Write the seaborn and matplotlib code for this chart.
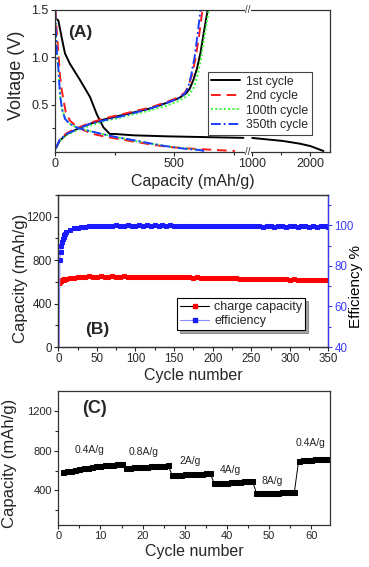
"""Three-panel anode performance figure: voltage profiles, cycling, rate capability."""
import matplotlib

matplotlib.use("Agg")
import matplotlib.pyplot as plt
from matplotlib.lines import Line2D
from matplotlib.ticker import FixedLocator, MultipleLocator
import numpy as np
import seaborn as sns

sns.set_theme(style="ticks")
plt.rcParams["font.family"] = ["Liberation Sans", "DejaVu Sans"]

# ---------------- (A) charge/discharge voltage profiles ----------------
dis1_cap = [3, 14, 28, 42, 63, 105, 147, 175, 203, 230, 251, 328, 468, 608, 790]
dis1_v = [1.41, 1.39, 1.21, 1.04, 0.93, 0.76, 0.58, 0.40, 0.26, 0.19, 0.19, 0.176, 0.165, 0.158, 0.149]
dis1b_cap = [1000, 1531, 1817, 2000, 2229]
dis1b_v = [0.148, 0.116, 0.088, 0.063, 0.01]
ch1_cap = [4, 20, 50, 100, 150, 200, 300, 400, 470, 520, 550, 565, 580, 595, 610, 625, 640]
ch1_v = [0.04, 0.12, 0.19, 0.25, 0.30, 0.34, 0.40, 0.46, 0.52, 0.57, 0.62, 0.67, 0.76, 0.88, 1.05, 1.28, 1.5]

dis2_cap = [2, 8, 14, 21, 28, 35, 45, 63, 90, 120, 160, 203, 260, 328, 400, 468, 540, 608, 680, 754]
dis2_v = [1.5, 1.25, 1.05, 0.80, 0.66, 0.56, 0.42, 0.33, 0.27, 0.23, 0.19, 0.165, 0.14, 0.11, 0.08,
          0.055, 0.04, 0.03, 0.02, 0.01]
ch2_cap = [4, 20, 50, 100, 150, 200, 300, 400, 470, 520, 545, 560, 575, 590, 605, 618]
ch2_v = [0.04, 0.13, 0.20, 0.26, 0.31, 0.35, 0.41, 0.47, 0.53, 0.58, 0.63, 0.70, 0.82, 1.0, 1.25, 1.5]

dis100_cap = [1, 4, 9, 14, 21, 30, 42, 60, 90, 130, 180, 250, 328, 400, 468, 540, 608, 620]
dis100_v = [1.45, 1.25, 1.0, 0.88, 0.62, 0.45, 0.36, 0.30, 0.26, 0.23, 0.20, 0.16, 0.12, 0.09,
            0.06, 0.04, 0.02, 0.01]
ch100_cap = [4, 20, 50, 100, 150, 200, 300, 400, 470, 520, 560, 580, 595, 610, 625, 645]
ch100_v = [0.04, 0.12, 0.18, 0.24, 0.28, 0.32, 0.38, 0.44, 0.49, 0.54, 0.60, 0.67, 0.78, 0.96, 1.2, 1.5]

dis350_cap = [1, 4, 9, 14, 21, 30, 42, 60, 90, 130, 180, 250, 328, 400, 468, 540, 608, 625]
dis350_v = [1.5, 1.25, 1.0, 0.90, 0.60, 0.45, 0.35, 0.30, 0.26, 0.23, 0.20, 0.16, 0.125, 0.09,
            0.06, 0.035, 0.02, 0.01]
ch350_cap = [4, 20, 50, 100, 150, 200, 300, 400, 470, 520, 545, 558, 570, 585, 598, 610]
ch350_v = [0.04, 0.13, 0.19, 0.25, 0.30, 0.33, 0.39, 0.46, 0.52, 0.57, 0.62, 0.68, 0.80, 1.0, 1.25, 1.5]

# ---------------- (B) long-term cycling ----------------
cyc_b = [1, 2, 3, 4, 5, 6, 7, 8, 9, 10] + list(range(15, 351, 5))
cap_b = [592, 600, 605, 610, 615, 618, 620, 622, 625, 626,
         632, 638, 645, 648, 645, 650, 648, 647, 650, 648, 646, 650, 648, 647, 650, 648, 647, 649,
         648, 647, 649, 648, 646, 648, 645, 646, 644, 645, 642, 644, 641, 642, 640, 641, 638, 640,
         637, 638, 635, 636, 633, 634, 632, 633, 630, 631, 629, 630, 628, 629, 627, 626, 625, 626,
         624, 623, 622, 620, 622, 620, 619, 621, 618, 620, 618, 617, 619, 617]
eff_b = [29, 83, 87, 90, 92, 93.5, 94.5, 95.5, 96, 96.8,
         97.8, 98.5, 98.8, 99.2, 99.4, 99.5, 99.6, 99.7, 99.8, 99.7, 99.9, 99.8, 100, 99.8, 99.9,
         100, 99.8, 99.9, 100, 99.9, 100, 99.8, 100, 99.9, 100.1, 99.9, 100, 99.8, 99.9, 99.8,
         99.9, 99.7, 99.8, 99.9, 99.7, 99.8, 99.6, 99.8, 99.7, 99.6, 99.8, 99.6, 99.7, 99.5, 99.7,
         99.6, 99.5, 99.7, 99.5, 99.6, 99.4, 99.6, 99.5, 99.4, 99.6, 99.5, 99.4, 99.6, 99.5, 99.4,
         99.5, 99.6, 99.4, 99.5, 99.4, 99.5, 99.5, 99.4]

# ---------------- (C) rate capability ----------------
cyc_c = list(range(1, 66))
cap_c = [583, 592, 600, 608, 615, 622, 630, 637, 643, 648, 652, 656, 660, 663, 666,
         628, 630, 633, 635, 637, 640, 642, 644, 646, 648, 652,
         555, 557, 559, 561, 563, 565, 567, 569, 571, 574,
         470, 473, 476, 479, 482, 485, 488, 491, 494, 497,
         373, 374, 375, 376, 377, 378, 379, 380, 382, 384,
         700, 704, 707, 710, 713, 716, 718, 720, 722]
rate_labels = ["0.4A/g", "0.8A/g", "2A/g", "4A/g", "8A/g", "0.4A/g"]
rate_x = [7.5, 20.3, 31.3, 40.8, 50.8, 59.8]
rate_y = [810, 790, 700, 610, 490, 880]

BLUE_AX = "#3b3bff"


def fwd(x):
    x = np.asarray(x, dtype=float)
    return np.where(x <= 800, x,
                    np.where(x <= 1000, 800 + (x - 800) * 0.133, 826.6 + (x - 1000) * 0.243))


def inv(u):
    u = np.asarray(u, dtype=float)
    return np.where(u <= 800, u,
                    np.where(u <= 826.6, 800 + (u - 800) / 0.133, 1000 + (u - 826.6) / 0.243))


def style_axis(ax, size):
    for s in ax.spines.values():
        s.set_visible(True)
        s.set_color("#333333")
        s.set_linewidth(0.9)
    ax.tick_params(which="both", direction="out", labelsize=size, length=3, width=0.8, pad=1.5)
    ax.tick_params(which="minor", length=2)


fig = plt.figure(figsize=(3.69, 5.67), dpi=100)
axA = fig.add_axes([0.149, 0.732, 0.745, 0.2504])
axB = fig.add_axes([0.158, 0.388, 0.732, 0.268])
axC = fig.add_axes([0.158, 0.074, 0.737, 0.236])

# ---- panel A ----
lw = 1.4
sns.lineplot(x=dis1_cap, y=dis1_v, ax=axA, color="black", lw=lw, sort=False, estimator=None)
sns.lineplot(x=dis1b_cap, y=dis1b_v, ax=axA, color="black", lw=lw, sort=False, estimator=None)
sns.lineplot(x=ch1_cap, y=ch1_v, ax=axA, color="black", lw=lw, sort=False, estimator=None)
for xs, ys, col, ls in [(dis2_cap, dis2_v, "#ff1a1a", (0, (5, 3))), (ch2_cap, ch2_v, "#ff1a1a", (0, (5, 3))),
                        (dis100_cap, dis100_v, "#33ff33", (0, (1, 1.2))),
                        (ch100_cap, ch100_v, "#33ff33", (0, (1, 1.2))),
                        (dis350_cap, dis350_v, "#1a3dff", (0, (5, 1.5, 1, 1.5))),
                        (ch350_cap, ch350_v, "#1a3dff", (0, (5, 1.5, 1, 1.5)))]:
    sns.lineplot(x=xs, y=ys, ax=axA, color=col, lw=lw, linestyle=ls, sort=False, estimator=None)

axA.set_xscale("function", functions=(fwd, inv))
axA.set_xlim(0, 2340)
axA.set_ylim(0, 1.5)
axA.xaxis.set_major_locator(FixedLocator([0, 500, 1000, 2000]))
axA.xaxis.set_minor_locator(FixedLocator([250, 750, 1500]))
axA.yaxis.set_major_locator(FixedLocator([0.5, 1.0, 1.5]))
axA.yaxis.set_minor_locator(FixedLocator([0.25, 0.75, 1.25]))
axA.set_xticklabels(["0", "500", "1000", "2000"])
axA.set_yticklabels(["0.5", "1.0", "1.5"])
style_axis(axA, 9)
axA.set_xlabel("Capacity (mAh/g)", fontsize=11.5, labelpad=2.5)
axA.set_ylabel("Voltage (V)", fontsize=13)
axA.yaxis.set_label_coords(-0.109, 0.54)
for yy in (0, 1):
    axA.text(870, yy, "//", transform=axA.get_xaxis_transform(), ha="center", va="center",
             fontsize=7, color="#333333",
             bbox=dict(boxstyle="square,pad=0.05", fc="white", ec="none"))
axA.text(105, 1.26, "(A)", fontsize=12.5, fontweight="bold", ha="center", va="center")
handlesA = [Line2D([], [], color="black", lw=lw),
            Line2D([], [], color="#ff1a1a", lw=lw, linestyle=(0, (5, 3))),
            Line2D([], [], color="#33ff33", lw=lw, linestyle=(0, (1, 1.2))),
            Line2D([], [], color="#1a3dff", lw=lw, linestyle=(0, (5, 1.5, 1, 1.5)))]
legA = axA.legend(handlesA, ["1st cycle", "2nd cycle", "100th cycle", "350th cycle"],
                  loc="upper left", bbox_to_anchor=(0.556, 0.563), borderaxespad=0,
                  fontsize=8.8, handlelength=2.3, labelspacing=0.2, borderpad=0.3,
                  handletextpad=0.5, fancybox=False, framealpha=1)
legA.get_frame().set_edgecolor("#444444")
legA.get_frame().set_linewidth(0.8)

# ---- panel B ----
axB2 = axB.twinx()
sns.lineplot(x=cyc_b, y=cap_b, ax=axB, color="black", lw=0.6, marker="s", markersize=3.4,
             markerfacecolor="#ff0000", markeredgecolor="#ff0000", sort=False, estimator=None)
sns.lineplot(x=cyc_b, y=eff_b, ax=axB2, color="#8c8cff", lw=0.8, marker="s", markersize=3.4,
             markerfacecolor="#1a1aff", markeredgecolor="#1a1aff", sort=False, estimator=None)
axB.set_xlim(0, 350)
axB.set_ylim(0, 1400)
axB2.set_ylim(40, 115)
axB.xaxis.set_major_locator(MultipleLocator(50))
axB.xaxis.set_minor_locator(MultipleLocator(25))
axB.yaxis.set_major_locator(MultipleLocator(400))
axB.yaxis.set_minor_locator(MultipleLocator(200))
axB2.yaxis.set_major_locator(MultipleLocator(20))
axB2.yaxis.set_minor_locator(MultipleLocator(10))
style_axis(axB, 8.3)
style_axis(axB2, 8.3)
axB2.spines["right"].set_color(BLUE_AX)
axB2.tick_params(axis="y", which="both", colors=BLUE_AX, labelcolor=BLUE_AX)
axB.set_xlabel("Cycle number", fontsize=11.5, labelpad=2)
axB.set_ylabel("Capacity (mAh/g)", fontsize=12)
axB.yaxis.set_label_coords(-0.112, 0.45)
axB2.set_ylabel("Efficiency %", fontsize=11, color="black")
axB2.yaxis.set_label_coords(1.075, 0.40)
axB.text(50, 160, "(B)", fontsize=12.5, fontweight="bold", ha="center", va="center")
handlesB = [Line2D([], [], color="black", lw=0.8, marker="s", markersize=3.4,
                   markerfacecolor="#ff0000", markeredgecolor="#ff0000"),
            Line2D([], [], color="#8c8cff", lw=0.8, marker="s", markersize=3.4,
                   markerfacecolor="#1a1aff", markeredgecolor="#1a1aff")]
legB = axB2.legend(handlesB, ["charge capacity", "efficiency"], loc="upper left",
                   bbox_to_anchor=(0.44, 0.322), borderaxespad=0, fontsize=9,
                   handlelength=2.3, labelspacing=0.15, borderpad=0.25, handletextpad=0.4,
                   fancybox=False, shadow=True, framealpha=1)
legB.get_frame().set_edgecolor("black")
legB.get_frame().set_linewidth(0.8)

# ---- panel C ----
sns.lineplot(x=cyc_c, y=cap_c, ax=axC, color="black", lw=0.7, marker="s", markersize=3.6,
             markerfacecolor="black", markeredgecolor="black", sort=False, estimator=None)
axC.set_xlim(0, 64.5)
axC.set_ylim(50, 1400)
axC.xaxis.set_major_locator(MultipleLocator(10))
axC.xaxis.set_minor_locator(MultipleLocator(5))
axC.yaxis.set_major_locator(FixedLocator([400, 800, 1200]))
axC.yaxis.set_minor_locator(FixedLocator([200, 600, 1000]))
style_axis(axC, 8)
axC.set_xlabel("Cycle number", fontsize=11.5, labelpad=2)
axC.set_ylabel("Capacity (mAh/g)", fontsize=12)
axC.yaxis.set_label_coords(-0.152, 0.46)
for lab, tx, ty in zip(rate_labels, rate_x, rate_y):
    axC.text(tx, ty, lab, fontsize=7.5, ha="center", va="center")
axC.text(8.7, 1227, "(C)", fontsize=13, fontweight="bold", ha="center", va="center")

fig.savefig("out.png", dpi=100)
